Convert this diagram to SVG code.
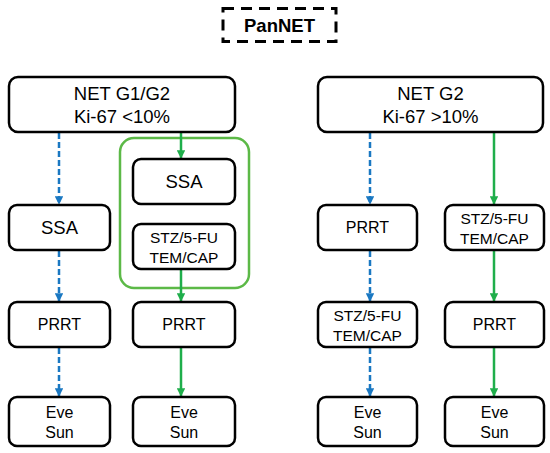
<svg xmlns="http://www.w3.org/2000/svg" width="550" height="453" viewBox="0 0 550 453">
<defs>
<style>
.box{fill:#fff;stroke:#000;stroke-width:2.5}
.t{font-family:"Liberation Sans",Arial,sans-serif;font-size:18.5px;fill:#000;text-anchor:middle}
.s{font-size:15.5px}
.m{font-size:16px}
.b{stroke:#1a78c2;stroke-width:2.5;stroke-dasharray:6,3;fill:none}
.g{stroke:#1fae4b;stroke-width:2.5;fill:none}
</style>
<marker id="ab" viewBox="0 0 10 10" refX="9" refY="5" markerWidth="3.4" markerHeight="3.4" orient="auto"><path d="M0,0L10,5L0,10z" fill="#1a78c2"/></marker>
<marker id="ag" viewBox="0 0 10 10" refX="9" refY="5" markerWidth="3.4" markerHeight="3.4" orient="auto"><path d="M0,0L10,5L0,10z" fill="#1fae4b"/></marker>
</defs>
<rect width="550" height="453" fill="#fff"/>
<g id="pannet">
<rect x="223" y="8.5" width="113" height="33" fill="none" stroke="#000" stroke-width="3" stroke-dasharray="11,7"/>
<text x="279.5" y="32" class="t" style="font-weight:bold;font-size:18.5px">PanNET</text>
</g>
<g id="container">
<rect x="120" y="138" width="129" height="150" rx="14" fill="none" stroke="#5cb947" stroke-width="2.5"/>
</g>
<g id="connectors">
<line x1="59" y1="133" x2="59" y2="204" class="b" marker-end="url(#ab)"/>
<line x1="59" y1="251" x2="59" y2="301" class="b" marker-end="url(#ab)"/>
<line x1="59" y1="348" x2="59" y2="396" class="b" marker-end="url(#ab)"/>
<line x1="181" y1="133" x2="181" y2="158" class="g" marker-end="url(#ag)"/>
<line x1="181" y1="270" x2="181" y2="301" class="g" marker-end="url(#ag)"/>
<line x1="181" y1="348" x2="181" y2="396" class="g" marker-end="url(#ag)"/>
<line x1="370" y1="133" x2="370" y2="204" class="b" marker-end="url(#ab)"/>
<line x1="370" y1="251" x2="370" y2="301" class="b" marker-end="url(#ab)"/>
<line x1="370" y1="348" x2="370" y2="396" class="b" marker-end="url(#ab)"/>
<line x1="494" y1="133" x2="494" y2="204" class="g" marker-end="url(#ag)"/>
<line x1="494" y1="251" x2="494" y2="301" class="g" marker-end="url(#ag)"/>
<line x1="494" y1="348" x2="494" y2="396" class="g" marker-end="url(#ag)"/>
</g>
<g id="n1"><rect x="9" y="77" width="226" height="55" rx="9" class="box"/><text x="122" y="99.5" class="t">NET G1/G2</text><text x="122" y="122.5" class="t">Ki-67 &lt;10%</text></g>
<g id="n2"><rect x="318" y="77" width="225" height="55" rx="9" class="box"/><text x="430.5" y="99.5" class="t">NET G2</text><text x="430.5" y="122.5" class="t">Ki-67 &gt;10%</text></g>
<g id="n3"><rect x="9" y="205" width="101" height="45" rx="8" class="box"/><text x="59.5" y="234" class="t">SSA</text></g>
<g id="n4"><rect x="133" y="159" width="102" height="45" rx="8" class="box"/><text x="184" y="188" class="t">SSA</text></g>
<g id="n5"><rect x="133" y="224" width="102" height="45" rx="8" class="box"/><text x="184" y="243" class="t s">STZ/5-FU</text><text x="184" y="263" class="t s">TEM/CAP</text></g>
<g id="n6"><rect x="318" y="205" width="99" height="45" rx="8" class="box"/><text x="367.5" y="233" class="t m">PRRT</text></g>
<g id="n7"><rect x="445" y="205" width="99" height="45" rx="8" class="box"/><text x="494.5" y="223.5" class="t s">STZ/5-FU</text><text x="494.5" y="243.5" class="t s">TEM/CAP</text></g>
<g id="n8"><rect x="9" y="302" width="101" height="45" rx="8" class="box"/><text x="59.5" y="330" class="t m">PRRT</text></g>
<g id="n9"><rect x="133" y="302" width="102" height="45" rx="8" class="box"/><text x="184" y="330" class="t m">PRRT</text></g>
<g id="n10"><rect x="318" y="302" width="99" height="45" rx="8" class="box"/><text x="367.5" y="320.5" class="t s">STZ/5-FU</text><text x="367.5" y="340.5" class="t s">TEM/CAP</text></g>
<g id="n11"><rect x="445" y="302" width="99" height="45" rx="8" class="box"/><text x="494.5" y="330" class="t m">PRRT</text></g>
<g id="n12"><rect x="9" y="397" width="101" height="49" rx="8" class="box"/><text x="59.5" y="418" class="t m">Eve</text><text x="59.5" y="438" class="t m">Sun</text></g>
<g id="n13"><rect x="133" y="397" width="102" height="49" rx="8" class="box"/><text x="184" y="418" class="t m">Eve</text><text x="184" y="438" class="t m">Sun</text></g>
<g id="n14"><rect x="318" y="397" width="99" height="49" rx="8" class="box"/><text x="367.5" y="418" class="t m">Eve</text><text x="367.5" y="438" class="t m">Sun</text></g>
<g id="n15"><rect x="445" y="397" width="99" height="49" rx="8" class="box"/><text x="494.5" y="418" class="t m">Eve</text><text x="494.5" y="438" class="t m">Sun</text></g>
</svg>
